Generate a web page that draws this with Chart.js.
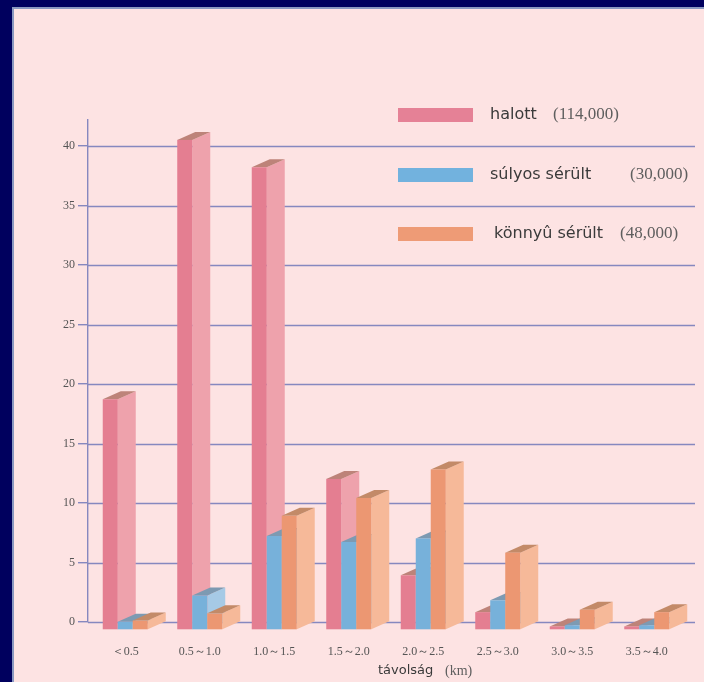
<!DOCTYPE html>
<html>
<head>
<meta charset="utf-8">
<script src="https://cdn.jsdelivr.net/npm/chart.js@4.4.0/dist/chart.umd.min.js"></script>
<style>
  html, body { margin: 0; padding: 0; background: #00005e; width: 704px; height: 682px; overflow: hidden; }
  #panel { position: absolute; left: 12px; top: 7px; width: 692px; height: 675px; box-sizing: border-box;
           border-left: 2px solid #8a98c0; border-top: 2px solid #8a98c0; background: #fde3e3; }
  #wrap { position: relative; width: 690px; height: 673px; }
</style>
</head>
<body>
<div id="panel"><div id="wrap"><canvas id="myChart"></canvas></div></div>
<script>
// data (percent)
const categories = ['＜0.5', '0.5～1.0', '1.0～1.5', '1.5～2.0', '2.0～2.5', '2.5～3.0', '3.0～3.5', '3.5～4.0'];
const halott = [19.4, 41.2, 38.9, 12.7, 4.6, 1.5, 0.3, 0.3];
const sulyos = [0.7, 2.9, 7.9, 7.4, 7.7, 2.5, 0.4, 0.4];
const konnyu = [0.8, 1.4, 9.6, 11.1, 13.5, 6.5, 1.7, 1.5];
const seriesNames = ['halott', 'súlyos sérült', 'könnyû sérült'];
const seriesTotals = ['(114,000)', '(30,000)', '(48,000)'];
const axisTitle = ['távolság', '(km)'];

const gridColor = '#8688bf';
const faceColors = [
  { front: '#e47e91', side: '#eea2ac', top: '#bd8379', key: '#e58196' },
  { front: '#77b1da', side: '#a6cae6', top: '#7d9ab2', key: '#72b2de' },
  { front: '#ec9772', side: '#f6b999', top: '#c38a68', key: '#ee9b76' }
];
const DX = 18, DY = 8;   // depth of the fake 3d boxes

const bars3d = {
  id: 'bars3d',
  beforeDatasetsDraw(chart) {
    const { ctx, chartArea, scales: { y } } = chart;
    ctx.save();
    ctx.strokeStyle = gridColor;
    ctx.lineWidth = 1.4;
    y.ticks.forEach(t => {
      const py = Math.round(y.getPixelForValue(t.value)) + 0.5;
      ctx.beginPath();
      ctx.moveTo(chartArea.left, py);
      ctx.lineTo(chartArea.right + 11, py);
      ctx.stroke();
    });
    ctx.restore();
  },
  afterDatasetsDraw(chart) {
    const ctx = chart.ctx;
    const metas = chart.data.datasets.map((d, i) => chart.getDatasetMeta(i));
    ctx.save();
    for (let c = 0; c < categories.length; c++) {
      metas.forEach((meta, s) => {
        const { x, y, base, width } = meta.data[c].getProps(['x', 'y', 'base', 'width'], true);
        const l = x - width / 2, r = x + width / 2, t = y + DY, b = base + DY;
        const col = faceColors[s];
        // side
        ctx.fillStyle = col.side;
        ctx.beginPath();
        ctx.moveTo(r, t); ctx.lineTo(r + DX, t - DY); ctx.lineTo(r + DX, b - DY); ctx.lineTo(r, b);
        ctx.closePath(); ctx.fill();
        // top
        ctx.fillStyle = col.top;
        ctx.beginPath();
        ctx.moveTo(l, t); ctx.lineTo(r, t); ctx.lineTo(r + DX, t - DY); ctx.lineTo(l + DX, t - DY);
        ctx.closePath(); ctx.fill();
        // front
        ctx.fillStyle = col.front;
        ctx.fillRect(l, t, width, b - t);
      });
    }
    ctx.restore();
  },
  afterDraw(chart) {
    const ctx = chart.ctx;
    ctx.save();
    ctx.textBaseline = 'middle';
    const rowsY = [106, 166, 225];
    const nameX = [476, 476, 480];
    const totalX = [539, 616, 606];
    seriesNames.forEach((name, i) => {
      ctx.fillStyle = faceColors[i].key;
      ctx.fillRect(384, rowsY[i] - 7, 75, 14);
      ctx.fillStyle = '#3a3a3a';
      ctx.font = '16px "DejaVu Sans"';
      ctx.fillText(name, nameX[i], rowsY[i]);
      ctx.fillStyle = '#5e5e5e';
      ctx.font = '17px "Liberation Serif"';
      ctx.fillText(seriesTotals[i], totalX[i], rowsY[i]);
    });
    ctx.fillStyle = '#3a3a3a';
    ctx.font = '13px "DejaVu Sans"';
    ctx.fillText(axisTitle[0], 364, 662);
    ctx.fillStyle = '#5e5e5e';
    ctx.font = '14px "Liberation Serif"';
    ctx.fillText(axisTitle[1], 431, 662);
    ctx.restore();
  }
};

const ctx = document.getElementById('myChart').getContext('2d');

const chart = new Chart(ctx, {
  type: 'bar',
  data: {
    labels: categories,
    datasets: [
      { label: seriesNames[0], data: halott, backgroundColor: 'rgba(0,0,0,0)' },
      { label: seriesNames[1], data: sulyos, backgroundColor: 'rgba(0,0,0,0)' },
      { label: seriesNames[2], data: konnyu, backgroundColor: 'rgba(0,0,0,0)' }
    ]
  },
  options: {
    responsive: true,
    maintainAspectRatio: false,
    animation: false,
    layout: { padding: { left: 0, right: 20, top: 111, bottom: 0 } },
    datasets: { bar: { categoryPercentage: 0.604, barPercentage: 1.0 } },
    scales: {
      x: {
        grid: { display: false },
        border: { display: false },
        ticks: {
          color: '#555',
          padding: 15,
          maxRotation: 0,
          font: { family: '"Liberation Serif"', size: 12 }
        },
        afterFit(scale) { scale.height = 60; }
      },
      y: {
        min: 0,
        max: 42.2,
        grid: { drawOnChartArea: false, drawTicks: true, tickLength: 10, color: gridColor, lineWidth: 1.4 },
        border: { display: true, color: gridColor, width: 1.4 },
        ticks: {
          stepSize: 5,
          padding: 3,
          color: '#555',
          font: { family: '"Liberation Serif"', size: 12 }
        },
        afterBuildTicks(scale) { scale.ticks = scale.ticks.filter(t => t.value % 5 === 0); },
        afterFit(scale) { scale.width = 74; }
      }
    },
    plugins: {
      legend: { display: false },
      tooltip: { enabled: false }
    }
  },
  plugins: [bars3d]
});
</script>
</body>
</html>
